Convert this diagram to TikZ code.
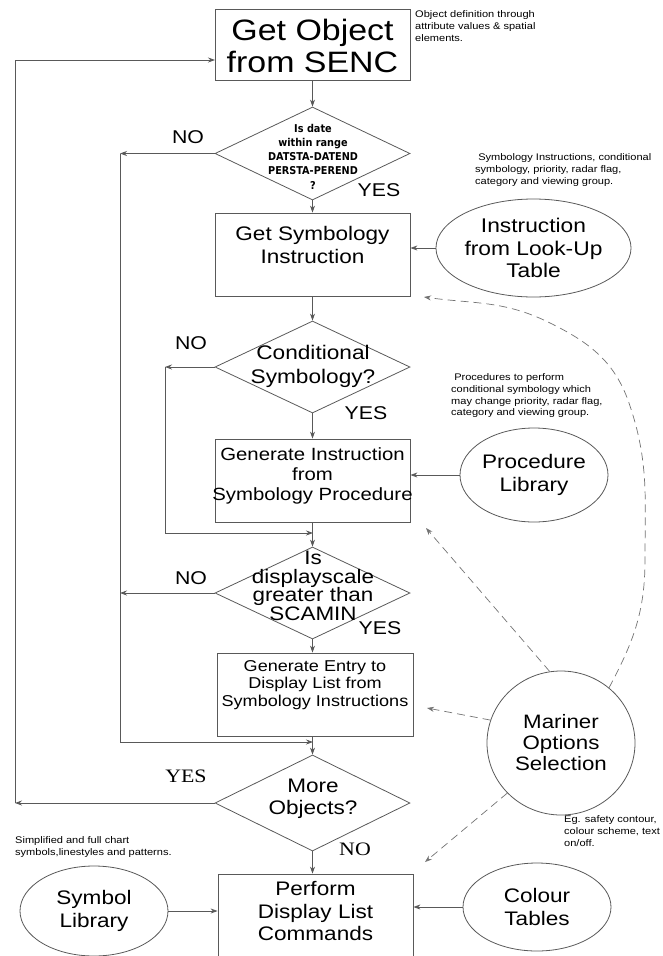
\documentclass[tikz,border=0pt]{standalone}
\usepackage{fontspec}
\setmainfont{Liberation Sans}[FakeStretch=1.15]
\newfontfamily\timesf{Liberation Serif}[FakeStretch=1.15]
\newfontfamily\condf{DejaVu Sans Condensed}[BoldFont={DejaVu Sans Condensed Bold}]
\usetikzlibrary{shapes.geometric,arrows.meta}
\begin{document}
\begin{tikzpicture}[x=1pt,y=-1pt,
  line/.style={draw=black!65,line width=0.8pt},
  arr/.style={line,-{Stealth[length=7pt,width=5pt]}},
  dsh/.style={draw=black!55,line width=0.7pt,dash pattern=on 8pt off 5pt,-{Stealth[length=7pt,width=5pt]}},
  boxs/.style={draw=black!65,line width=0.8pt,rectangle,inner sep=0pt},
  dia/.style={draw=black!65,line width=0.8pt,diamond,inner sep=0pt,minimum width=195pt,minimum height=93pt},
  ell/.style={draw=black!65,line width=0.8pt,ellipse,inner sep=0pt,align=center},
  txt/.style={align=center,inner sep=0pt},
  big/.style={font=\fontsize{19.6}{22.5}\selectfont},
  lab/.style={inner sep=0pt,font=\fontsize{18.5}{20}\selectfont},
  tlab/.style={inner sep=0pt,font=\timesf\fontsize{19}{20}\selectfont},
  ann/.style={anchor=north west,align=left,inner sep=0pt,font=\fontsize{9.6}{11.7}\selectfont}
]
\useasboundingbox (0,0) rectangle (662,956);
\clip (0,0) rectangle (662,956);

% ---- boxes
\node[boxs,minimum width=195pt,minimum height=71pt] (b1) at (312.5,44.5) {};
\node[txt,font=\fontsize{29.5}{32}\selectfont] (t1) at (312.5,46) {Get Object\\from SENC};

\node[boxs,minimum width=195pt,minimum height=83pt] (b2) at (312.5,254.5) {};
\node[txt,big] (t2) at (312.5,245) {Get Symbology\\Instruction};

\node[boxs,minimum width=195pt,minimum height=83pt] (b3) at (312.5,480.5) {};
\node[txt,font=\fontsize{17.7}{20}\selectfont] (t3) at (312.5,476) {Generate Instruction\\from\\Symbology Procedure};

\node[boxs,minimum width=196pt,minimum height=83pt] (b4) at (315,694.5) {};
\node[txt,font=\fontsize{15.7}{17.5}\selectfont] (t4) at (315,685) {Generate Entry to\\Display List from\\Symbology Instructions};

\node[boxs,minimum width=195pt,minimum height=90pt] (b5) at (315.5,919) {};
\node[txt,big] (t5) at (315.5,911) {Perform\\Display List\\Commands};

% ---- diamonds
\node[dia] (d1) at (312.5,153.5) {};
\node[txt,font=\condf\bfseries\fontsize{10.8}{14.3}\selectfont] (td1) at (313,156.5) {Is date\\within range\\DATSTA-DATEND\\PERSTA-PEREND\\?};

\node[dia,minimum height=92pt] (d2) at (312.5,367) {};
\node[txt,big,font=\fontsize{19.7}{24}\selectfont] (td2) at (313,366) {Conditional\\Symbology?};

\node[dia,minimum height=92pt] (d3) at (312.5,593) {};
\node[txt,font=\fontsize{19.5}{18.7}\selectfont] (td3) at (313,586) {Is\\displayscale\\greater than\\SCAMIN};

\node[dia,minimum height=96pt] (d4) at (312.5,803) {};
\node[txt,big,font=\fontsize{19.6}{22}\selectfont] (td4) at (313,799) {More\\Objects?};

% ---- ellipses
\node[ell,minimum width=149pt,minimum height=98pt,font=\fontsize{19.8}{22.5}\selectfont] (lut) at (533.5,248) {Instruction\\from Look-Up\\Table};
\node[ell,minimum width=148pt,minimum height=94pt,big] (pl) at (534,475) {Procedure\\Library};
\node[ell,minimum width=148pt,minimum height=144pt,font=\fontsize{19.4}{21}\selectfont] (mar) at (561,743) {Mariner\\Options\\Selection};
\node[ell,minimum width=148pt,minimum height=90pt,big] (sl) at (94,911) {Symbol\\Library};
\node[ell,minimum width=148pt,minimum height=88pt,big] (ct) at (537,907) {Colour\\Tables};

% ---- annotations
\node[ann] (a1) at (415,10.5) {Object definition through\\attribute values \& spatial\\elements.};
\node[ann] (a2) at (475,153.5) {\ Symbology Instructions, conditional\\symbology, priority, radar flag,\\category and viewing group.};
\node[ann] (a3) at (451,373.5) {\ Procedures to perform\\conditional symbology which\\may change priority, radar flag,\\category and viewing group.};
\node[ann] (a4) at (15,836.5) {Simplified and full chart\\symbols,linestyles and patterns.};
\node[ann] (a5) at (564,815.5) {Eg. safety contour,\\colour scheme, text\\on/off.};

% ---- labels
\node[lab] (n1) at (188,137) {NO};
\node[lab] (y1) at (379,190) {YES};
\node[lab] (n2) at (191,343) {NO};
\node[lab] (y2) at (366,413) {YES};
\node[lab] (n3) at (191,578) {NO};
\node[lab] (y3) at (380,628) {YES};
\node[tlab] (y4) at (186,776) {YES};
\node[tlab] (n4) at (355,849) {NO};

% ---- main flow
\draw[arr] (b1.south) -- (d1.north);
\draw[arr] (d1.south) -- (b2.north);
\draw[arr] (b2.south) -- (d2.north);
\draw[arr] (d2.south) -- (b3.north);
\draw[arr] (b3.south) -- (d3.north);
\draw[arr] (d3.south) -- (d3.south |- b4.north);
\draw[arr] (b4.south -| d4.north) -- (d4.north);
\draw[arr] (d4.south) -- (d4.south |- b5.north);

% ---- NO loops
\coordinate (c1) at (120,153.5);
\coordinate (c1b) at (120,742);
\coordinate (c1e) at (313,742);
\draw[arr] (d1.west) -- (c1);
\draw[line] (c1) -- (c1b);
\draw[arr] (c1b) -- (c1e);
\coordinate (c3) at (120,593);
\draw[arr] (d3.west) -- (c3);

\coordinate (c2) at (165,367);
\coordinate (c2b) at (165,533);
\coordinate (c2e) at (313,533);
\draw[arr] (d2.west) -- (c2);
\draw[line] (c2) -- (c2b);
\draw[arr] (c2b) -- (c2e);

% ---- YES loop back
\coordinate (c0) at (15,803);
\coordinate (c0t) at (15,60);
\coordinate (c0e) at (215,60);
\draw[arr] (d4.west) -- (c0);
\draw[arr] (c0) -- (c0t) -- (c0e);

% ---- side inputs
\draw[arr] (lut.west) -- (b2.east |- lut.west);
\draw[arr] (pl.west) -- (b3.east |- pl.west);
\draw[arr] (sl.east) -- (b5.west |- sl.east);
\draw[arr] (ct.west) -- (b5.east |- ct.west);

% ---- dashed mariner options
\coordinate (eB4) at (427,708);
\coordinate (eB5) at (425,862);
\coordinate (eB3) at (426,528);
\coordinate (eB2) at (424,297);
\coordinate (k1) at (645,560);
\coordinate (k2) at (629,403);
\coordinate (k3) at (548,322);
\draw[dsh] (mar.162) -- (eB4);
\draw[dsh] (mar.223) -- (eB5);
\draw[dsh] (mar.99) -- (eB3);
\draw[dsh] (mar.49) to[out=62,in=-90] (k1) to[out=90,in=-71] (k2) to[out=109,in=-26] (k3) to[out=154,in=-8] (eB2);
\end{tikzpicture}
\end{document}
